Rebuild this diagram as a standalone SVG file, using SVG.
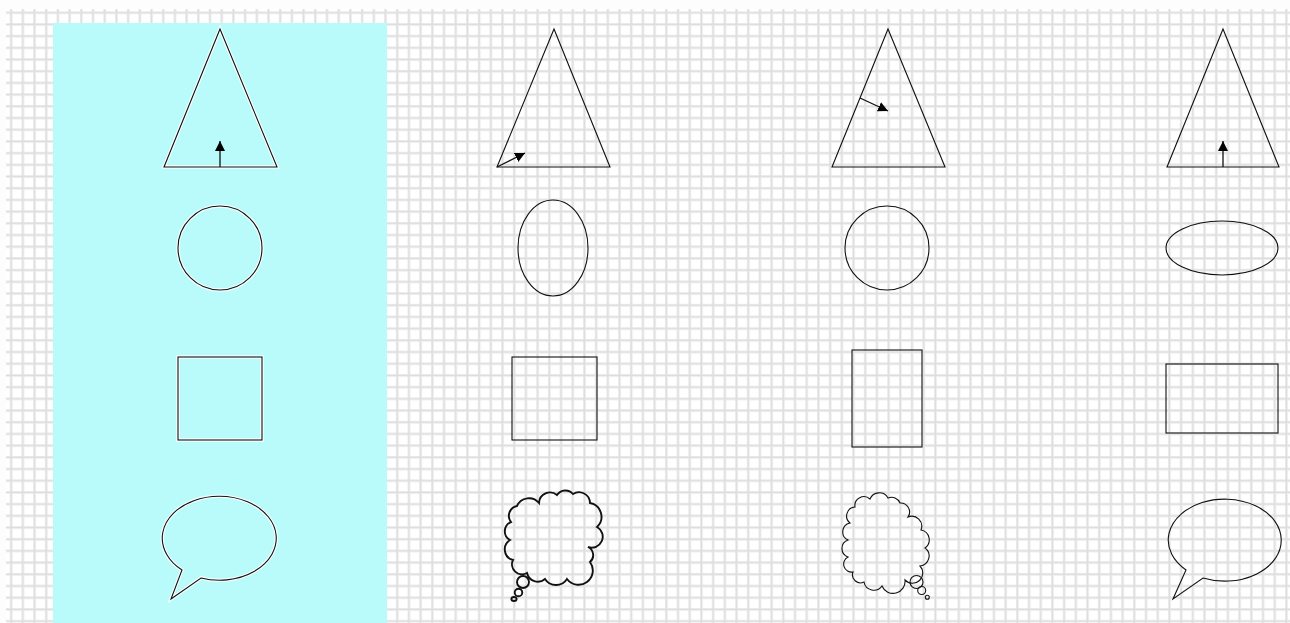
<svg xmlns="http://www.w3.org/2000/svg" width="1290" height="623" viewBox="0 0 1290 623">
<style>
.sh{fill:none;stroke:#111;stroke-width:1.1}
.glow{fill:none;stroke:#fff;stroke-width:3.5;stroke-opacity:0.85}
.arr{stroke:#111;stroke-width:1.3;fill:none;marker-end:url(#ah)}
.thick{stroke-width:1.9}
</style>
<defs>
<pattern id="grid" patternUnits="userSpaceOnUse" x="0" y="1.6" width="11.7" height="11.7">
<rect width="11.7" height="11.7" fill="#efefef"/>
<rect x="1" y="1" width="9.2" height="9.2" fill="#fff"/>
<rect x="10.2" y="0" width="1.5" height="11.7" fill="#dedede"/>
<rect x="0" y="10.2" width="11.7" height="1.5" fill="#dedede"/>
</pattern>
<marker id="ah" viewBox="0 0 10 10" refX="10" refY="5" markerWidth="10" markerHeight="11" markerUnits="userSpaceOnUse" orient="auto">
<path d="M0,0 L10,5 L0,10 z" fill="#000"/>
</marker>
</defs>
<rect width="1290" height="623" fill="#fdfdfd"/>
<rect x="6" y="9" width="1284" height="614" fill="url(#grid)"/>
<rect x="53" y="23" width="334" height="600" fill="#b9fafa"/>

<g id="col1">
<g id="tri1"><path class="glow" d="M220,29 L164,167 L277,167 Z"/><path class="sh" d="M220,29 L164,167 L277,167 Z"/></g>
<g id="circ1"><circle class="glow" cx="220" cy="248" r="42"/><circle class="sh" cx="220" cy="248" r="42"/></g>
<g id="sq1"><rect class="glow" x="178" y="357" width="84" height="83"/><rect class="sh" x="178" y="357" width="84" height="83"/></g>
<g id="bub1"><path class="glow" d="M182,570 A57,42 0 1 1 201,578 L171,599 Z"/><path class="sh" d="M182,570 A57,42 0 1 1 201,578 L171,599 Z"/></g>
</g>

<g id="col2">
<g id="tri2"><path class="sh" d="M554,29 L497,167 L610,167 Z"/></g>
<g id="ell2"><ellipse class="sh" cx="553" cy="248" rx="35" ry="48"/></g>
<g id="sq2"><rect class="sh" x="512" y="357" width="85" height="83"/></g>
<g id="cloud2">
<path class="sh thick" d="M517,506 A13,13 0 0 1 539,503 A11,11 0 0 1 557,495 A10,10 0 0 1 573,494 A11,11 0 0 1 590,503 A14,14 0 0 1 597,527 A11,11 0 0 1 588,547 A9,9 0 0 1 590,562 A14,14 0 0 1 567,579 A13,13 0 0 1 545,579 A11,11 0 0 1 527,573 A10,10 0 0 1 513,560 A11,11 0 0 1 510,540 A10,10 0 0 1 511,522 A10,10 0 0 1 517,506 Z"/>
<circle class="sh thick" cx="523" cy="582" r="6"/>
<circle class="sh thick" cx="518.5" cy="592.5" r="3.8"/>
<ellipse class="sh thick" cx="514" cy="599" rx="2.6" ry="2"/>
</g>
</g>

<g id="col3">
<g id="tri3"><path class="sh" d="M888,29 L832,167 L945,167 Z"/></g>
<g id="circ3"><circle class="sh" cx="887" cy="248" r="42"/></g>
<g id="sq3"><rect class="sh" x="852" y="350" width="70" height="97"/></g>
<g id="cloud3">
<path class="sh" d="M855,507 A9,9 0 0 1 870,499 A10,10 0 0 1 888,498 A9,9 0 0 1 900,503 A9,9 0 0 1 908,517 A10,10 0 0 1 921,530 A10,10 0 0 1 925,548 A10,10 0 0 1 920,566 A10,10 0 0 1 905,580 A12,12 0 0 1 882,586 A10,10 0 0 1 864,582 A8,8 0 0 1 853,572 A8,8 0 0 1 848,557 A9,9 0 0 1 848,540 A9,9 0 0 1 850,523 A9,9 0 0 1 855,507 Z"/>
<circle class="sh" cx="916.5" cy="582" r="6.5"/>
<circle class="sh" cx="921.7" cy="590.5" r="4"/>
<circle class="sh" cx="927.3" cy="597.3" r="2"/>
</g>
</g>

<g id="col4">
<g id="tri4"><path class="sh" d="M1223,29 L1167,167 L1279,167 Z"/></g>
<g id="ell4"><ellipse class="sh" cx="1222" cy="248" rx="56" ry="27"/></g>
<g id="sq4"><rect class="sh" x="1166" y="364" width="112" height="69"/></g>
<g id="bub4"><path class="sh" d="M1186,570 A56.5,41 0 1 1 1203,578 L1173,599 Z"/></g>
</g>

<g id="connectors">
<line class="arr" x1="220" y1="167" x2="220" y2="141"/>
<line class="arr" x1="497" y1="167" x2="525" y2="153"/>
<line class="arr" x1="860" y1="98" x2="888" y2="111"/>
<line class="arr" x1="1223" y1="167" x2="1223" y2="141"/>
</g>
</svg>
